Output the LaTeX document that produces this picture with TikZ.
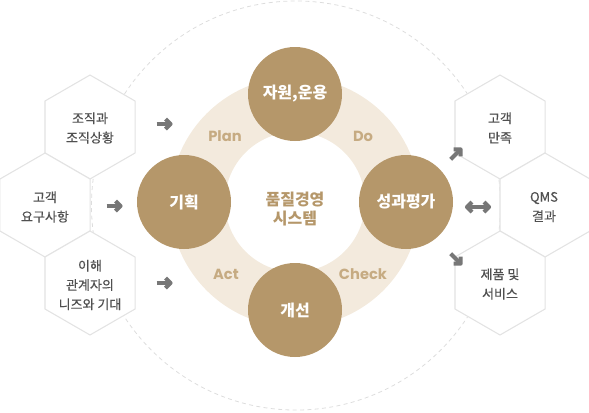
\documentclass[tikz,border=0pt]{standalone}
\usepackage{fontspec}
\usetikzlibrary{shapes.geometric}
\newfontfamily\kr{Noto Sans CJK KR}
\newfontfamily\krm[FakeBold=0.35]{Noto Sans CJK KR}
\newfontfamily\pop{Poppins}
\definecolor{circfill}{HTML}{B5976A}
\definecolor{ringfill}{HTML}{F3EADD}
\definecolor{pdcatext}{HTML}{C6AB82}
\definecolor{hexline}{HTML}{E3E3E3}
\definecolor{hextext}{HTML}{505050}
\definecolor{arrowgray}{HTML}{777777}
\definecolor{dashgray}{HTML}{DDDDDD}
\tikzset{
  hexbox/.style={regular polygon, regular polygon sides=6, shape border rotate=30,
    minimum size=78pt, inner sep=0pt, draw=hexline, fill=white, line width=0.8pt},
  hexlabel/.style={align=center, text=hextext, font=\krm\fontsize{9.75}{14.5}\selectfont, inner sep=0pt},
  stepcirc/.style={circle, fill=circfill, minimum size=70.5pt, inner sep=0pt,
    text=white, font=\kr\bfseries\fontsize{12}{14}\selectfont},
  pdcalabel/.style={text=pdcatext, font=\pop\bfseries\fontsize{11}{13}\selectfont, inner sep=0pt},
  centerlabel/.style={align=center, text=circfill, font=\kr\bfseries\fontsize{12}{14}\selectfont, inner sep=0pt},
  garrow/.style={draw=arrowgray, line width=3.1pt, line cap=butt, line join=round},
  dashcirc/.style={draw=dashgray, line width=0.6pt, dash pattern=on 3pt off 2.5pt}
}
\newcommand\garr[2]{\begin{scope}[shift={#1},rotate=#2]
  \draw[garrow] (-7.5,0) -- (5,0);
  \draw[garrow] (1.5,-5) -- (6.5,0) -- (1.5,5);
\end{scope}}
\begin{document}
\begin{tikzpicture}[x=0.75pt,y=-0.75pt]
\useasboundingbox (0,0) rectangle (589,412);
% outer dashed circle
\draw[dashcirc] (296,205.5) circle[radius=153.4pt];
% hexagons left
\node[hexbox] (h1) at (90,127) {};
\node[hexbox] (h2) at (45,205) {};
\node[hexbox] (h3) at (90,283) {};
% hexagons right
\node[hexbox] (h4) at (500,127) {};
\node[hexbox] (h5) at (545,205) {};
\node[hexbox] (h6) at (500,283) {};
\node[hexlabel] (t1) at (90,128) {조직과\\조직상황};
\node[hexlabel] (t2) at (45,207) {고객\\요구사항};
\node[hexlabel] (t3) at (90,285) {이해\\관계자의\\니즈와 기대};
\node[hexlabel] (t4) at (500,128) {고객\\만족};
\node[hexlabel] (t5) at (544,207) {QMS\\결과};
\node[hexlabel] (t6) at (500,284) {제품 및\\서비스};
% ring
\fill[ringfill, even odd rule] (295,202) circle[radius=93.75pt] (295,202) circle[radius=52.5pt];
% step circles
\node[stepcirc] (plan) at (295,94) {자원,운용};
\node[stepcirc] (lft) at (184,202) {기획};
\node[stepcirc] (rgt) at (406,202) {성과평가};
\node[stepcirc] (bot) at (295,310) {개선};
% PDCA labels
\node[pdcalabel] (lp) at (225,136) {Plan};
\node[pdcalabel] (ld) at (363,136) {Do};
\node[pdcalabel] (la) at (226,274) {Act};
\node[pdcalabel] (lc) at (363,274) {Check};
% center
\node[centerlabel] (ctr) at (295,209) {품질경영\\시스템};
% arrows
\garr{(164,124)}{0}
\garr{(114,206)}{0}
\garr{(164,283)}{0}
\garr{(456,154)}{45}
\garr{(456,259)}{-45}
\draw[garrow] (468,207) -- (488,207);
\draw[garrow] (472,202) -- (467,207) -- (472,212);
\draw[garrow] (484,202) -- (489,207) -- (484,212);
\end{tikzpicture}
\end{document}
